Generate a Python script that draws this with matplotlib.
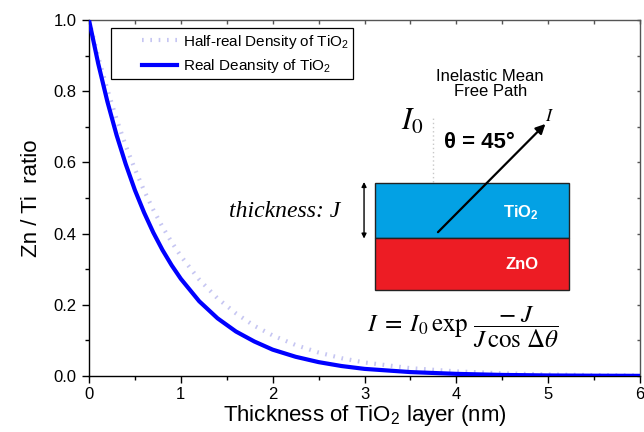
import matplotlib
matplotlib.use("Agg")
import matplotlib.pyplot as plt
from matplotlib.patches import Rectangle
from matplotlib.ticker import MultipleLocator
from matplotlib.legend_handler import HandlerLine2D

plt.rcParams['font.family'] = ['Liberation Sans', 'DejaVu Sans']
plt.rcParams['mathtext.fontset'] = 'stix'

# ---- data ----
thickness_nm = [0.0, 0.1, 0.2, 0.3, 0.4, 0.5, 0.6, 0.7, 0.8, 0.9, 1.0,
                1.2, 1.4, 1.6, 1.8, 2.0, 2.25, 2.5, 2.75, 3.0, 3.5,
                4.0, 4.5, 5.0, 5.5, 6.0]
real_density = [1.0, 0.878, 0.771, 0.677, 0.595, 0.522, 0.459, 0.403, 0.354,
                0.311, 0.273, 0.210, 0.162, 0.125, 0.097, 0.074, 0.054, 0.039,
                0.028, 0.020, 0.011, 0.006, 0.003, 0.0015, 0.0008, 0.0004]
half_real_density = [1.0, 0.897, 0.805, 0.722, 0.647, 0.581, 0.521, 0.467,
                     0.419, 0.376, 0.337, 0.271, 0.218, 0.176, 0.141, 0.114,
                     0.087, 0.066, 0.050, 0.038, 0.022, 0.013, 0.0075, 0.0044,
                     0.0025, 0.0015]
series_labels = ['Half-real Density of TiO$_\\mathregular{2}$',
                 'Real Deansity of TiO$_\\mathregular{2}$']
x_ticks = [0, 1, 2, 3, 4, 5, 6]
y_ticks = [0.0, 0.2, 0.4, 0.6, 0.8, 1.0]


class OffsetLine(HandlerLine2D):
    """Legend line drawn only on the right part of the handle box."""
    def get_xdata(self, legend, xdescent, ydescent, width, height, fontsize):
        x0 = -xdescent + 0.43 * width
        x1 = -xdescent + width
        return [x0, x1], [(x0 + x1) / 2]


fig = plt.figure(figsize=(6.44, 4.32), dpi=100)
ax = fig.add_axes([89/644, 56/432, 551/644, 356/432])

l1, = ax.plot(thickness_nm, half_real_density, color='#c6c6f2', lw=3,
              linestyle=(0, (0.4, 1.6)), label=series_labels[0], zorder=2)
l2, = ax.plot(thickness_nm, real_density, color='#0000ff', lw=3,
              label=series_labels[1], zorder=3)

ax.set_xlim(0, 6)
ax.set_ylim(0, 1.0)
ax.set_xticks(x_ticks)
ax.set_yticks(y_ticks)
ax.set_yticklabels([f'{v:.1f}' for v in y_ticks])
ax.xaxis.set_minor_locator(MultipleLocator(0.5))
ax.yaxis.set_minor_locator(MultipleLocator(0.1))
ax.tick_params(axis='both', which='major', direction='out', length=5, width=1,
               labelsize=12, top=False, right=False)
ax.tick_params(axis='y', which='major', pad=4)
ax.tick_params(axis='x', which='major', pad=3)
ax.tick_params(axis='both', which='minor', direction='out', length=3, width=1,
               top=False, right=False)
for s in ['left', 'bottom']:
    ax.spines[s].set_linewidth(1.0)
for s in ['top', 'right']:
    ax.spines[s].set_linewidth(1.0)
    ax.spines[s].set_color('#555555')

# inner ticks on top/right
secx = ax.secondary_xaxis('top')
secx.set_xticks(x_ticks)
secx.xaxis.set_minor_locator(MultipleLocator(0.5))
secx.tick_params(which='both', direction='in', length=3, width=1,
                 labeltop=False, color='#555555')
secx.spines['top'].set_visible(False)
secy = ax.secondary_yaxis('right')
secy.set_yticks(y_ticks)
secy.yaxis.set_minor_locator(MultipleLocator(0.1))
secy.tick_params(which='both', direction='in', length=2, width=1,
                 labelright=False, color='#555555')
secy.spines['right'].set_visible(False)

ax.set_xlabel('Thickness of TiO$_\\mathregular{2}$ layer (nm)', fontsize=16,
              labelpad=1)
ax.set_ylabel('Zn / Ti  ratio', fontsize=16, labelpad=8)

leg = ax.legend(handles=[l1, l2], loc='upper left',
                bbox_to_anchor=(0.04, 0.977), fontsize=11,
                frameon=True, fancybox=False, edgecolor='black',
                borderaxespad=0, handlelength=4.0, handletextpad=0.4,
                borderpad=0.3, labelspacing=0.4,
                handler_map={l1: OffsetLine(), l2: OffsetLine()})
leg.get_frame().set_linewidth(0.9)
leg.get_frame().set_alpha(1)

# ---- schematic inset (data coordinates) ----
ax.add_patch(Rectangle((3.11, 0.388), 2.12, 0.154, facecolor='#03a1e4',
                       edgecolor='#222222', lw=1, zorder=4))
ax.add_patch(Rectangle((3.11, 0.242), 2.12, 0.146, facecolor='#ed1c24',
                       edgecolor='#222222', lw=1, zorder=4))
ax.text(4.70, 0.458, 'TiO$_\\mathregular{2}$', color='white', fontsize=12,
        fontweight='bold', ha='center', va='center', zorder=5)
ax.text(4.72, 0.312, 'ZnO', color='white', fontsize=12, fontweight='bold',
        ha='center', va='center', zorder=5)

ax.plot([3.75, 3.75], [0.404, 0.725], color='#c8c8c8', lw=1,
        linestyle=(0, (1, 2)), zorder=3)
ax.annotate('', xy=(4.97, 0.708), xytext=(3.80, 0.404),
            arrowprops=dict(arrowstyle='-|>', color='black', lw=1.6,
                            mutation_scale=14, shrinkA=0, shrinkB=0), zorder=6)
ax.annotate('', xy=(2.995, 0.545), xytext=(2.995, 0.386),
            arrowprops=dict(arrowstyle='<|-|>', color='black', lw=1,
                            mutation_scale=7, shrinkA=0, shrinkB=0), zorder=6)

ax.text(4.37, 0.82, 'Inelastic Mean\nFree Path', fontsize=12, ha='center',
        va='center', linespacing=1.05)
ax.text(3.52, 0.715, '$I_0$', fontsize=22, ha='center', va='center')
ax.text(5.02, 0.73, '$I$', fontsize=13, ha='center', va='center')
ax.text(4.25, 0.657, 'θ = 45°', fontsize=16, fontweight='bold', ha='center',
        va='center')
ax.text(2.74, 0.463, 'thickness: J', fontsize=17, family='Liberation Serif',
        style='italic', ha='right', va='center')
ax.text(4.07, 0.138,
        r'$I\;=\;I_0\,\exp\,\dfrac{-\;J}{J\,\cos\,\Delta\theta}$',
        fontsize=18, ha='center', va='center')

fig.savefig('out.png', dpi=100)
